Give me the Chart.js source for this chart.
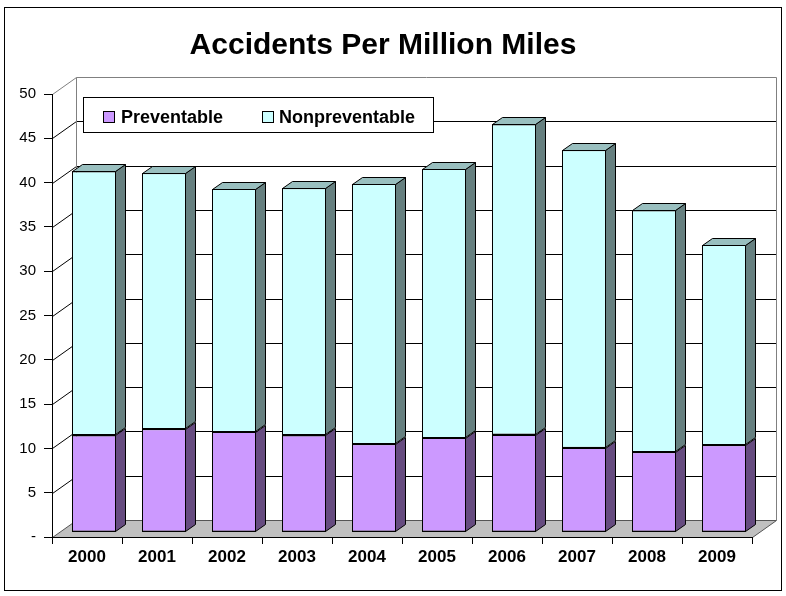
<!DOCTYPE html>
<html>
<head>
<meta charset="utf-8">
<title>Accidents Per Million Miles</title>
<script src="https://cdn.jsdelivr.net/npm/chart.js@4.4.1/dist/chart.umd.min.js"></script>
<style>
  html, body { margin: 0; padding: 0; background: #fff; }
  canvas { display: block; }
</style>
</head>
<body>
<canvas id="chartAccidents" width="786" height="596"></canvas>
<script>
// Accidents per million miles, split by type
const years = ['2000', '2001', '2002', '2003', '2004', '2005', '2006', '2007', '2008', '2009'];
const preventable = [10.9, 11.6, 11.3, 10.9, 9.9, 10.6, 11.0, 9.5, 9.0, 9.8];
const nonpreventable = [29.8, 28.9, 27.4, 27.9, 29.4, 30.4, 35.0, 33.6, 27.3, 22.6];
const seriesNames = ['Preventable', 'Nonpreventable'];
const yMax = 50;
const yStep = 5;

const FONT = '"Liberation Sans", Arial, sans-serif';

// fake 3D: depth of the walls/floor and of the bars (px)
const WALL_DX = 24, WALL_DY = -17;
const BAR_SHIFT_X = 7, BAR_SHIFT_Y = -5;
const BAR_DX = 10, BAR_DY = -7;

const frontColors = ['#CC99FF', '#CCFFFF'];
const sideColors = ['#664C80', '#668080'];
const topColors = ['#997FBF', '#99BFBF'];

const px = (v) => Math.round(v) + 0.5;

function poly(ctx, pts, fill, stroke) {
  ctx.beginPath();
  ctx.moveTo(pts[0][0], pts[0][1]);
  for (let i = 1; i < pts.length; i++) ctx.lineTo(pts[i][0], pts[i][1]);
  ctx.closePath();
  if (fill) { ctx.fillStyle = fill; ctx.fill(); }
  if (stroke) { ctx.strokeStyle = stroke; ctx.lineWidth = 1; ctx.stroke(); }
}

function line(ctx, x1, y1, x2, y2, color) {
  ctx.beginPath();
  ctx.moveTo(x1, y1);
  ctx.lineTo(x2, y2);
  ctx.strokeStyle = color;
  ctx.lineWidth = 1;
  ctx.stroke();
}

// pixel box of a bar's front face, already shifted back into the scene
function barBox(bar) {
  const { x, y, base, width } = bar.getProps(['x', 'y', 'base', 'width'], true);
  return {
    l: Math.round(x - width / 2) + BAR_SHIFT_X + 0.5,
    r: Math.round(x + width / 2) + BAR_SHIFT_X - 0.5,
    t: Math.round(y) + BAR_SHIFT_Y + 0.5,
    b: Math.round(base) + BAR_SHIFT_Y - 0.5,
  };
}

const box3d = {
  id: 'box3d',
  beforeDraw(chart) {
    const { ctx, chartArea: a, scales: { y } } = chart;
    ctx.save();
    ctx.fillStyle = '#fff';
    ctx.fillRect(0, 0, chart.width, chart.height);

    // outer frame
    ctx.strokeStyle = '#000';
    ctx.lineWidth = 1;
    ctx.strokeRect(4.5, 7.5, 777, 583);

    const L = px(a.left), R = px(a.right), B = px(a.bottom);

    // floor
    poly(ctx, [[L, B], [R, B], [R + WALL_DX, B + WALL_DY], [L + WALL_DX, B + WALL_DY]], '#C0C0C0', '#555');

    // gridlines on the back wall + side wall diagonals
    y.ticks.forEach((t) => {
      if (t.value === 0) return;
      const yy = px(y.getPixelForValue(t.value));
      const c = t.value === yMax ? '#808080' : '#000';
      line(ctx, L, yy, L + WALL_DX, yy + WALL_DY, c);
      line(ctx, L + WALL_DX, yy + WALL_DY, R + WALL_DX, yy + WALL_DY, c);
    });

    // back wall edges
    const top = px(y.getPixelForValue(yMax)) + WALL_DY;
    line(ctx, L + WALL_DX, top, L + WALL_DX, B + WALL_DY, '#808080');
    line(ctx, R + WALL_DX, top, R + WALL_DX, B + WALL_DY, '#808080');
    ctx.restore();
  },
  beforeDatasetsDraw(chart) {
    // bars sit a little behind the front plane
    chart.ctx.save();
    chart.ctx.translate(BAR_SHIFT_X, BAR_SHIFT_Y);
  },
  afterDatasetsDraw(chart) {
    const ctx = chart.ctx;
    ctx.restore();
    ctx.save();
    const last = chart.data.datasets.length - 1;
    chart.data.datasets.forEach((ds, i) => {
      chart.getDatasetMeta(i).data.forEach((bar) => {
        const { l, r, t, b } = barBox(bar);
        // crisp outline of the front face
        ctx.strokeStyle = '#000';
        ctx.lineWidth = 1;
        ctx.strokeRect(l, t, r - l, b - t);
        poly(ctx, [[r, t], [r + BAR_DX, t + BAR_DY], [r + BAR_DX, b + BAR_DY], [r, b]], sideColors[i], '#000');
        if (i === last) {
          poly(ctx, [[l, t], [l + BAR_DX, t + BAR_DY], [r + BAR_DX, t + BAR_DY], [r, t]], topColors[i], '#000');
        }
      });
    });
    ctx.restore();
  },
  afterDraw(chart) {
    const ctx = chart.ctx;
    ctx.save();

    // title
    ctx.fillStyle = '#000';
    ctx.font = 'bold 30px ' + FONT;
    ctx.textAlign = 'center';
    ctx.textBaseline = 'middle';
    ctx.fillText('Accidents Per Million Miles', 383, 46);

    // legend
    ctx.fillStyle = '#fff';
    ctx.fillRect(83.5, 97.5, 350, 35);
    ctx.strokeStyle = '#000';
    ctx.lineWidth = 1;
    ctx.strokeRect(83.5, 97.5, 350, 35);
    const items = [{ x: 103, tx: 121 }, { x: 262, tx: 279 }];
    ctx.font = 'bold 18px ' + FONT;
    ctx.textAlign = 'left';
    items.forEach((it, i) => {
      ctx.fillStyle = frontColors[i];
      ctx.fillRect(it.x + 0.5, 111.5, 11, 11);
      ctx.strokeStyle = '#000';
      ctx.strokeRect(it.x + 0.5, 111.5, 11, 11);
      ctx.fillStyle = '#000';
      ctx.fillText(seriesNames[i], it.tx, 118);
    });
    ctx.restore();
  }
};

const ctx = document.getElementById('chartAccidents').getContext('2d');
const myChart = new Chart(ctx, {
  type: 'bar',
  data: {
    labels: years,
    datasets: [
      { label: seriesNames[0], data: preventable, backgroundColor: frontColors[0] },
      { label: seriesNames[1], data: nonpreventable, backgroundColor: frontColors[1] },
    ],
  },
  options: {
    responsive: false,
    animation: false,
    devicePixelRatio: 1,
    layout: { padding: { top: 94, right: 34, left: 0, bottom: 0 } },
    datasets: {
      bar: {
        categoryPercentage: 1,
        barPercentage: 0.63,
        borderColor: '#000',
        borderWidth: 1,
        borderSkipped: false,
        clip: false,
      },
    },
    scales: {
      x: {
        stacked: true,
        grid: { drawOnChartArea: false, tickLength: 7, color: '#000', offset: true },
        border: { color: '#000' },
        ticks: { color: '#000', padding: 3, maxRotation: 0, font: { family: FONT, size: 17, weight: 'bold' } },
        afterFit: (s) => { s.height = 59; },
      },
      y: {
        stacked: true,
        min: 0,
        max: yMax,
        grid: { drawOnChartArea: false, tickLength: 8, color: '#000' },
        border: { color: '#000' },
        ticks: {
          stepSize: yStep,
          color: '#000',
          padding: 8,
          font: { family: FONT, size: 15 },
          callback: (v) => (v === 0 ? '-' : v),
        },
        afterFit: (s) => { s.width = 52; },
      },
    },
    plugins: {
      legend: { display: false },
      title: { display: false },
      tooltip: { enabled: false },
    },
  },
  plugins: [box3d],
});
</script>
</body>
</html>
